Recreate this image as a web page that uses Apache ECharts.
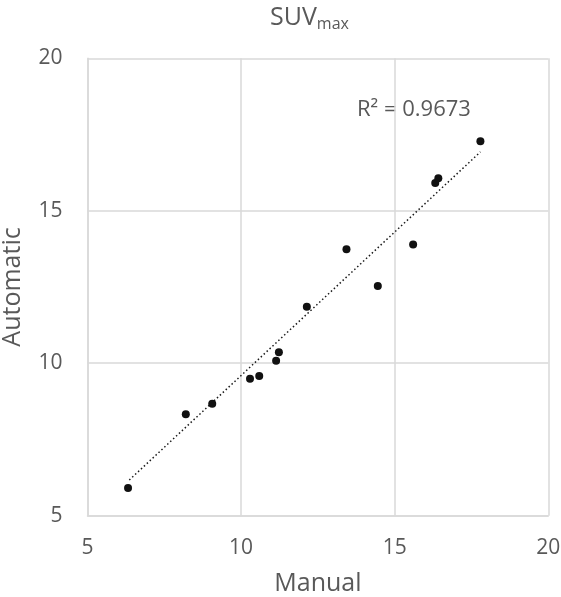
<!DOCTYPE html>
<html><head><meta charset="utf-8">
<script src="https://cdn.jsdelivr.net/npm/echarts@6/dist/echarts.min.js"></script>
<style>html,body{margin:0;padding:0;background:#fff}#c{width:561px;height:597px}</style>
</head><body><div id="c"></div>
<script>
const manual =    [6.32, 8.20, 9.06, 10.29, 10.59, 11.14, 11.23, 12.14, 13.43, 14.45, 15.60, 16.32, 16.42, 17.79];
const automatic = [5.91, 8.33, 8.67, 9.49, 9.58, 10.08, 10.36, 11.85, 13.74, 12.53, 13.89, 15.91, 16.07, 17.28];
const trendX = [6.36, 17.79];
const trendY = [6.17, 16.93];
const xTicks = [5, 10, 15, 20];
const yTicks = [5, 10, 15, 20];
const rSquaredLabel = 'R² = 0.9673';

const FONT = '"Open Sans", sans-serif';
const GRAY = '#595959';
const chart = echarts.init(document.getElementById('c'), null, {renderer: 'canvas'});
chart.setOption({
  animation: false,
  backgroundColor: '#fff',
  textStyle: {fontFamily: FONT},
  title: {
    text: '{a|SUV}{b|max}',
    left: 265, top: -4,
    textStyle: {
      fontWeight: 'normal',
      rich: {
        a: {fontFamily: FONT, fontSize: 25, fontWeight: 'normal', color: GRAY, lineHeight: 34},
        b: {fontFamily: FONT, fontSize: 16, fontWeight: 'normal', color: GRAY, lineHeight: 34, padding: [12, 0, 0, 0]}
      }
    }
  },
  grid: {left: 87.5, right: 12.7, top: 58.3, bottom: 81.3, containLabel: false, outerBoundsMode: 'none'},
  xAxis: {
    type: 'value', min: xTicks[0], max: xTicks[xTicks.length - 1], interval: 5,
    name: 'Manual', nameLocation: 'middle', nameGap: 56,
    nameTextStyle: {fontFamily: FONT, fontSize: 25, color: GRAY},
    axisLine: {show: true, lineStyle: {color: '#d9d9d9', width: 1.5}},
    axisTick: {show: false},
    axisLabel: {fontFamily: FONT, fontSize: 21, color: GRAY, margin: 22},
    splitLine: {show: true, lineStyle: {color: '#d9d9d9', width: 1.5}}
  },
  yAxis: {
    type: 'value', min: yTicks[0], max: yTicks[yTicks.length - 1], interval: 5,
    name: 'Automatic', nameLocation: 'middle', nameGap: 62,
    nameTextStyle: {fontFamily: FONT, fontSize: 25, color: GRAY},
    axisLine: {show: true, lineStyle: {color: '#d9d9d9', width: 1.5}},
    axisTick: {show: false},
    axisLabel: {fontFamily: FONT, fontSize: 21, color: GRAY, margin: 25},
    splitLine: {show: true, lineStyle: {color: '#d9d9d9', width: 1.5}}
  },
  graphic: [{
    type: 'text', left: 357, top: 99,
    style: {text: rSquaredLabel, fontFamily: FONT, fontSize: 22, fill: GRAY}
  }],
  series: [
    {
      type: 'line',
      data: trendX.map((x, i) => [x, trendY[i]]),
      symbol: 'none',
      lineStyle: {type: [1.5, 2.5], width: 1.5, color: '#1a1a1a'},
      z: 2
    },
    {
      type: 'scatter',
      data: manual.map((x, i) => [x, automatic[i]]),
      symbol: 'circle', symbolSize: 8,
      itemStyle: {color: '#111', opacity: 1},
      z: 3
    }
  ]
});
</script></body></html>
